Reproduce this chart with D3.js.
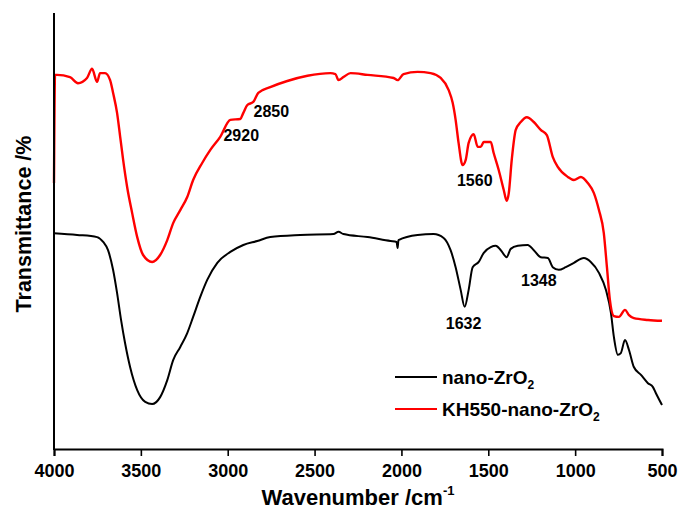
<!DOCTYPE html>
<html lang="en">
<head>
  <meta charset="UTF-8">
  <title>FTIR</title>
  <style>
    body { margin: 0; background: #fff; }
    svg text { font-family: "Liberation Sans", Arial, sans-serif; font-weight: bold; }
  </style>
</head>
<body>
  <div id="warp"></div>
  <script src="https://cdn.jsdelivr.net/npm/d3@7"></script>
  <script>
    // wavenumber / transmittance (arbitrary units)
    var waveKH = [4000, 3994, 3983, 3908, 3862, 3810, 3781, 3752, 3735, 3706, 3677, 3660, 3637, 3619, 3602, 3579, 3550, 3521, 3487, 3435, 3389, 3348, 3314, 3273, 3233, 3199, 3147, 3100, 3043, 2985, 2928, 2910, 2887, 2853, 2824, 2755, 2657, 2541, 2409, 2380, 2362, 2334, 2293, 2195, 2045, 2022, 1988, 1907, 1832, 1774, 1728, 1705, 1688, 1671, 1648, 1630, 1613, 1584, 1561, 1544, 1526, 1486, 1469, 1440, 1411, 1394, 1382, 1365, 1342, 1313, 1278, 1238, 1198, 1163, 1129, 1100, 1042, 1007, 967, 927, 892, 863, 835, 817, 800, 777, 748, 713, 690, 662, 580, 500];
    var transKH = [61.0, 85.8, 85.8, 85.3, 83.9, 85.1, 87.2, 84.2, 86.2, 86.2, 84.6, 81.7, 77.1, 71.6, 66.3, 60.1, 54.1, 48.6, 44.5, 42.9, 44.5, 47.9, 51.8, 54.8, 57.8, 61.7, 65.6, 68.6, 71.6, 75.5, 75.7, 77.1, 78.9, 79.6, 81.7, 83.0, 84.4, 85.6, 86.2, 86.0, 84.6, 85.3, 86.2, 85.8, 85.1, 84.6, 86.0, 86.5, 86.2, 85.1, 82.3, 79.4, 75.5, 70.2, 65.1, 66.3, 70.2, 72.2, 69.3, 69.3, 70.4, 70.4, 67.9, 64.0, 59.4, 56.9, 58.7, 66.3, 73.2, 75.0, 76.1, 75.0, 73.2, 72.0, 67.0, 64.7, 62.4, 61.7, 62.4, 61.0, 58.7, 54.8, 49.5, 41.7, 34.2, 30.5, 30.3, 31.9, 30.7, 30.0, 29.6, 29.4];

    var waveZr = [4000, 3867, 3752, 3717, 3689, 3660, 3637, 3614, 3591, 3562, 3521, 3475, 3435, 3389, 3348, 3314, 3273, 3233, 3199, 3158, 3118, 3060, 2985, 2910, 2830, 2755, 2582, 2391, 2362, 2334, 2195, 2063, 2028, 2022, 2017, 1907, 1815, 1757, 1717, 1688, 1659, 1636, 1613, 1590, 1555, 1526, 1486, 1457, 1428, 1394, 1371, 1330, 1273, 1238, 1198, 1157, 1129, 1094, 1054, 1007, 950, 910, 863, 823, 794, 777, 754, 737, 713, 690, 662, 621, 581, 552, 535, 500];
    var transZr = [49.5, 49.1, 48.6, 47.5, 45.6, 41.1, 35.8, 29.6, 24.3, 18.8, 13.5, 10.8, 10.3, 11.9, 15.8, 20.4, 23.4, 26.6, 30.3, 34.9, 38.8, 42.7, 45.2, 46.8, 47.7, 48.6, 49.1, 49.3, 49.8, 49.3, 48.6, 47.7, 47.5, 46.1, 47.9, 49.1, 49.3, 48.4, 45.6, 41.7, 36.5, 32.6, 36.5, 41.7, 42.9, 45.0, 46.3, 46.6, 45.6, 44.0, 45.9, 46.6, 46.8, 45.6, 44.0, 43.8, 41.7, 41.1, 41.7, 42.7, 43.8, 42.9, 40.4, 36.5, 31.2, 25.7, 21.6, 22.0, 25.0, 22.7, 18.8, 17.0, 15.1, 14.2, 12.8, 10.1];

    var xTicks = [4000, 3500, 3000, 2500, 2000, 1500, 1000, 500];
    var peakLabels = ['2920', '2850', '1560', '1632', '1348'];
    var peakWave = [2922, 2749, 1578, 1642, 1209];
    var peakTrans = [71.6, 77.1, 61.2, 28.4, 38.3];

    var W = 679, H = 510;
    var m = {left: 54, right: 17, top: 13, bottom: 61};
    var svg = d3.select('#warp').append('svg').attr('width', W).attr('height', H);

    var x = d3.scaleLinear().domain([4000, 500]).range([m.left, W - m.right]);
    var y = d3.scaleLinear().domain([0, 100]).range([H - m.bottom, m.top]);

    var line = d3.line()
      .curve(d3.curveMonotoneX)
      .x(function(d) { return x(d[0]); })
      .y(function(d) { return y(d[1]); });

    var zr = d3.zip(waveZr, transZr);
    var kh = d3.zip(waveKH, transKH);

    svg.append('path').datum(zr)
      .attr('d', line).attr('fill', 'none')
      .attr('stroke', '#000').attr('stroke-width', 2).attr('stroke-linejoin', 'round');
    svg.append('path').datum(kh)
      .attr('d', line).attr('fill', 'none')
      .attr('stroke', '#ff0000').attr('stroke-width', 2.4).attr('stroke-linejoin', 'round');

    // bottom axis, major + minor ticks
    var gx = svg.append('g').attr('transform', 'translate(0,' + (H - m.bottom) + ')');
    gx.call(d3.axisBottom(x).tickValues(d3.range(4000, 499, -250)).tickSizeOuter(0).tickSize(5).tickFormat(''));
    gx.call(d3.axisBottom(x).tickValues(xTicks).tickSizeOuter(0).tickSize(7).tickPadding(8).tickFormat(d3.format('d')));
    gx.selectAll('path.domain').attr('stroke-width', 2);
    gx.selectAll('line').attr('stroke-width', 1.6);
    gx.selectAll('text').attr('font-size', 18).attr('fill', '#000');

    // left axis, no ticks
    svg.append('line')
      .attr('x1', m.left).attr('x2', m.left)
      .attr('y1', m.top).attr('y2', H - m.bottom + 1)
      .attr('stroke', '#000').attr('stroke-width', 2);

    // peak labels
    svg.selectAll('text.peak')
      .data(peakLabels)
      .enter()
      .append('text')
      .attr('class', 'peak')
      .attr('x', function(d, i) { return x(peakWave[i]); })
      .attr('y', function(d, i) { return y(peakTrans[i]); })
      .attr('text-anchor', 'middle')
      .attr('dominant-baseline', 'middle')
      .attr('font-size', 16)
      .text(function(d) { return d; });

    // axis titles
    var xt = svg.append('text')
      .attr('x', (m.left + W - m.right) / 2).attr('y', 505)
      .attr('text-anchor', 'middle').attr('font-size', 22);
    xt.append('tspan').text('Wavenumber /cm');
    xt.append('tspan').attr('dy', -10).attr('font-size', 13).text('-1');

    svg.append('text')
      .attr('transform', 'translate(31,224) rotate(-90)')
      .attr('text-anchor', 'middle').attr('font-size', 21.5)
      .text('Transmittance /%');

    // legend
    var legend = [['nano-ZrO', '#000'], ['KH550-nano-ZrO', '#ff0000']];
    var lg = svg.selectAll('g.leg').data(legend).enter().append('g')
      .attr('class', 'leg')
      .attr('transform', function(d, i) { return 'translate(395,' + (377 + i * 32) + ')'; });
    lg.append('line').attr('x1', 0).attr('x2', 42)
      .attr('stroke', function(d) { return d[1]; }).attr('stroke-width', 2);
    var lt = lg.append('text').attr('x', 47).attr('y', 7).attr('font-size', 19);
    lt.append('tspan').text(function(d) { return d[0]; });
    lt.append('tspan').attr('dy', 5).attr('font-size', 12).text('2');
  </script>
</body>
</html>
